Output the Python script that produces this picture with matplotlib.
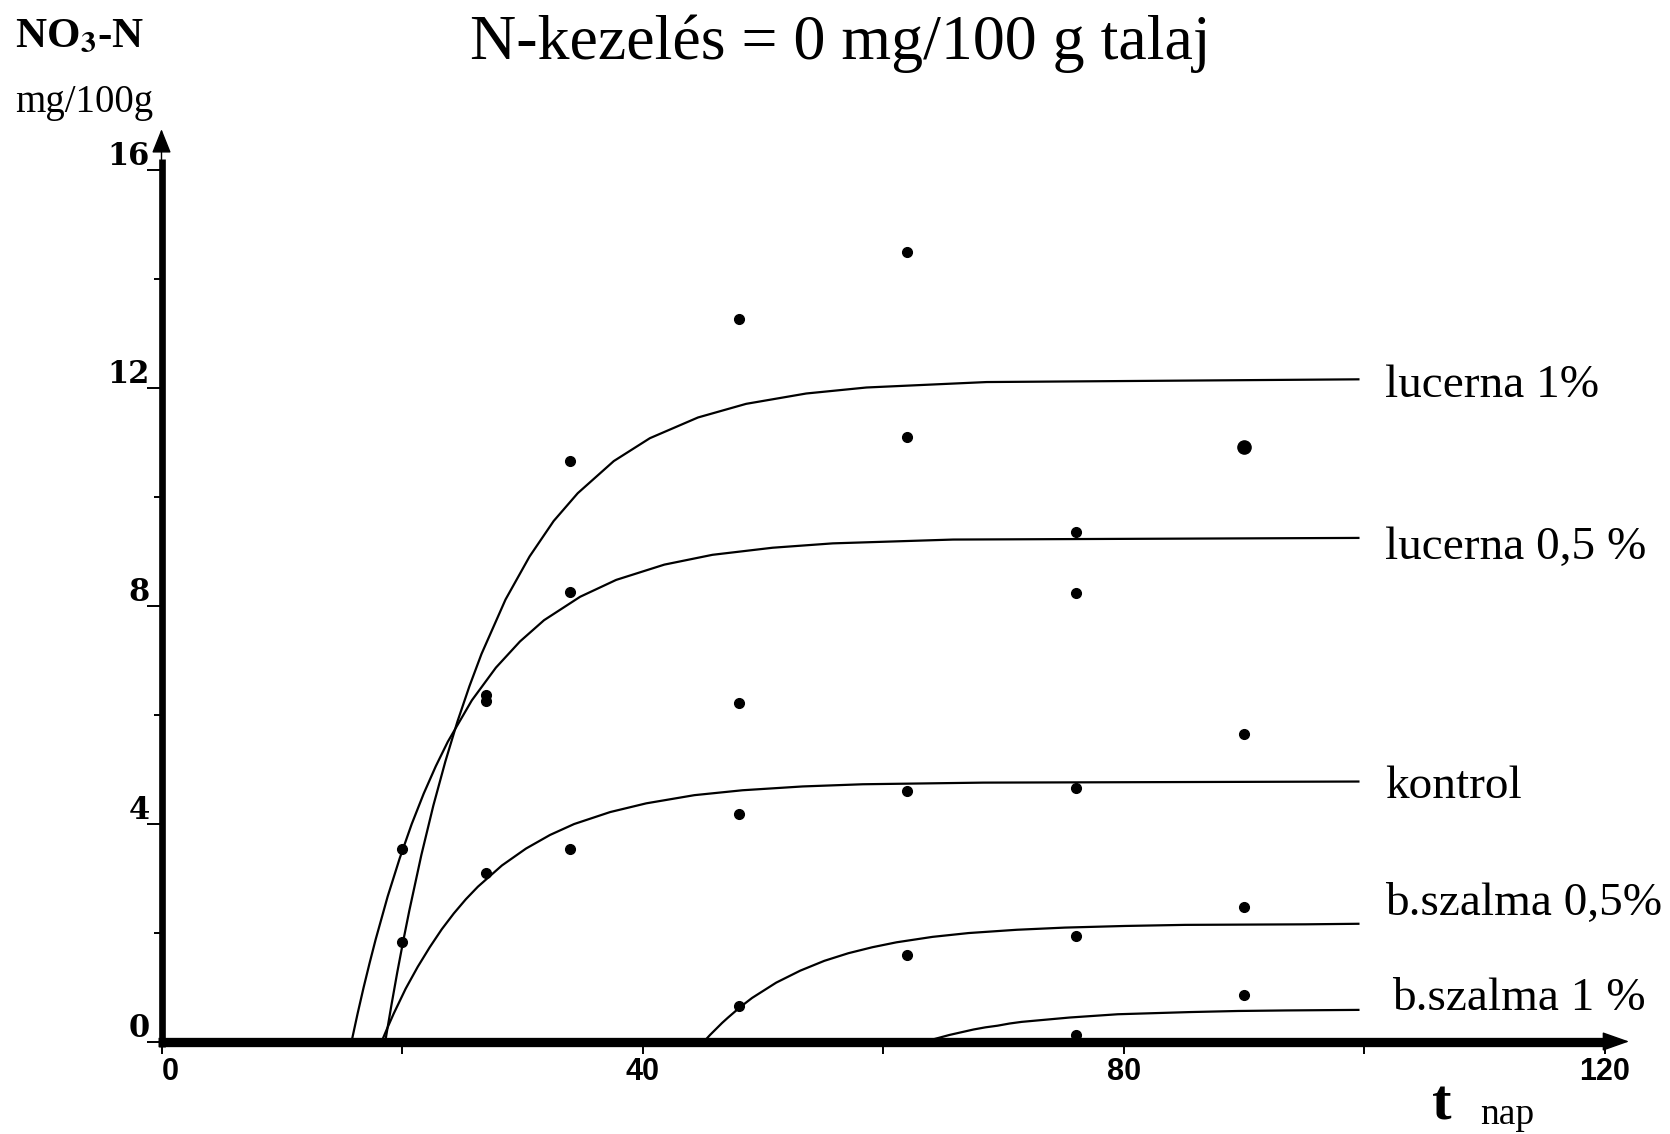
import matplotlib
matplotlib.use('Agg')
import matplotlib.pyplot as plt
import numpy as np

plt.rcParams['mathtext.fontset'] = 'stix'

nan = np.nan

# measured NO3-N (mg/100 g soil) on sampling days
days = [20, 27, 34, 48, 62, 76, 90]
obs_luc1 = [3.53, 6.36, 10.66, 13.25, 14.48, 9.35, 10.91]
obs_luc05 = [1.82, 6.24, 8.24, 6.22, 11.10, 8.23, 5.64]
obs_kontrol = [nan, 3.10, 3.53, 4.17, 4.60, 4.65, nan]
obs_sz05 = [nan, nan, nan, 0.65, 1.59, 1.94, 2.46]
obs_sz1 = [nan, nan, nan, nan, nan, 0.12, 0.86]

# fitted curves
luc1_t = [18.6, 19.1, 19.6, 20.1, 20.6, 21.6, 22.6, 23.6, 24.6, 25.6, 26.6, 28.6,
          30.6, 32.6, 34.6, 37.6, 40.6, 44.6, 48.6, 53.6, 58.6, 68.6, 99.5]
luc1_v = [0.0, 0.65, 1.27, 1.85, 2.40, 3.42, 4.33, 5.14, 5.87, 6.52, 7.11, 8.11,
          8.90, 9.55, 10.06, 10.65, 11.07, 11.45, 11.70, 11.89, 12.00, 12.10, 12.15]

luc05_t = [15.8, 16.3, 16.8, 17.3, 17.8, 18.8, 19.8, 20.8, 21.8, 22.8, 23.8, 25.8,
           27.8, 29.8, 31.8, 34.8, 37.8, 41.8, 45.8, 50.8, 55.8, 65.8, 99.5]
luc05_v = [0.0, 0.51, 0.99, 1.44, 1.87, 2.66, 3.36, 3.99, 4.55, 5.05, 5.50, 6.26,
           6.86, 7.34, 7.73, 8.16, 8.47, 8.75, 8.93, 9.06, 9.14, 9.21, 9.24]

kontrol_t = [18.3, 18.8, 19.3, 19.8, 20.3, 21.3, 22.3, 23.3, 24.3, 25.3, 26.3, 28.3,
             30.3, 32.3, 34.3, 37.3, 40.3, 44.3, 48.3, 53.3, 58.3, 68.3, 99.5]
kontrol_v = [0.0, 0.26, 0.51, 0.74, 0.97, 1.37, 1.73, 2.06, 2.35, 2.61, 2.84, 3.23,
             3.54, 3.79, 3.99, 4.21, 4.37, 4.52, 4.61, 4.68, 4.72, 4.75, 4.77]

sz05_t = [45.1, 45.6, 46.1, 46.6, 47.1, 48.1, 49.1, 50.1, 51.1, 52.1, 53.1, 55.1,
          57.1, 59.1, 61.1, 64.1, 67.1, 71.1, 75.1, 80.1, 85.1, 95.1, 99.5]
sz05_v = [0.0, 0.12, 0.23, 0.34, 0.44, 0.63, 0.80, 0.94, 1.08, 1.19, 1.30, 1.48,
          1.62, 1.73, 1.82, 1.92, 1.99, 2.05, 2.09, 2.12, 2.14, 2.15, 2.16]

sz1_t = [63.5, 64.5, 65.5, 66.5, 67.5, 68.5, 69.5, 70.5, 71.5, 73.5, 75.5, 77.5,
         79.5, 82.5, 85.5, 89.5, 93.5, 99.5]
sz1_v = [0.0, 0.06, 0.12, 0.17, 0.22, 0.26, 0.29, 0.33, 0.36, 0.40, 0.44, 0.47,
         0.50, 0.52, 0.54, 0.56, 0.57, 0.58]

labels = ['lucerna 1%', 'lucerna 0,5 %', 'kontrol', 'b.szalma 0,5%', 'b.szalma 1 %']

fig = plt.figure(figsize=(16.7, 11.34), dpi=100)
ax = fig.add_axes([161.5 / 1670, 92.5 / 1134, 1443.5 / 1670, 872 / 1134])
ax.set_xlim(0, 120)
ax.set_ylim(0, 16)
for s in ax.spines.values():
    s.set_visible(False)

curves = [(luc1_t, luc1_v), (luc05_t, luc05_v), (kontrol_t, kontrol_v),
          (sz05_t, sz05_v), (sz1_t, sz1_v)]
for t, v in curves:
    ax.plot(t, v, color='black', lw=1.6, zorder=2, clip_on=False)

for obs in [obs_luc1, obs_luc05, obs_kontrol, obs_sz05, obs_sz1]:
    ax.plot(days, obs, 'o', color='black', ms=7, ls='none', zorder=3, clip_on=False)
# doubled point on day 90
ax.plot(days[-1], obs_luc1[-1], 'o', color='black', ms=9.5, zorder=3)

# axes with arrows
ax.plot([-0.3, 120.5], [0, 0], color='black', lw=6.7, solid_capstyle='butt',
        zorder=5, clip_on=False)
ax.plot([0, 0], [-0.1, 16.2], color='black', lw=4.8, solid_capstyle='butt',
        zorder=5, clip_on=False)
ax.annotate('', xy=(122.0, 0), xytext=(119.5, 0), annotation_clip=False, zorder=5,
            arrowprops=dict(arrowstyle='-|>,head_length=1.7,head_width=0.6',
                            lw=1, color='black', shrinkA=0, shrinkB=0))
ax.annotate('', xy=(0, 16.74), xytext=(0, 16.1), annotation_clip=False, zorder=5,
            arrowprops=dict(arrowstyle='-|>,head_length=1.5,head_width=0.6',
                            lw=1, color='black', shrinkA=0, shrinkB=0))

ax.set_xticks(range(0, 121, 20))
ax.set_yticks([0, 4, 8, 12, 16])
ax.set_yticks([2, 6, 10, 14], minor=True)
ax.tick_params(axis='x', direction='out', length=8.5, width=1.4,
               labelbottom=False)
ax.tick_params(axis='y', which='major', direction='out', length=10.7, width=1.4,
               labelleft=False)
ax.tick_params(axis='y', which='minor', direction='out', length=5.9, width=1.4)

for v in [0, 4, 8, 12, 16]:
    ax.text(-0.96, v + 0.08, str(v), ha='right', va='baseline', fontsize=22,
            fontweight='bold', family='DejaVu Serif', clip_on=False)

for t, ha in zip([0, 40, 80, 120], ['left', 'center', 'center', 'center']):
    ax.text(t, -0.28, str(t), ha=ha, va='top', fontsize=22, fontweight='bold',
            family='Liberation Sans', clip_on=False)

label_x = [101.7, 101.7, 101.7, 101.7, 102.3]
label_y = [11.83, 8.86, 4.46, 2.33, 0.58]
for name, lx, ly in zip(labels, label_x, label_y):
    ax.text(lx, ly, name, ha='left', va='baseline', fontsize=34,
            family='Liberation Serif', clip_on=False)

fig.text(0.503, 1 - 59 / 1134, 'N-kezelés = 0 mg/100 g talaj', ha='center',
         va='baseline', fontsize=46, family='Liberation Serif')
fig.text(15 / 1670, 1 - 47 / 1134, r'NO$_\mathbf{3}$-N', ha='left', va='baseline',
         fontsize=31, fontweight='bold', family='Liberation Serif')
fig.text(15 / 1670, 1 - 112 / 1134, 'mg/100g', ha='left', va='baseline',
         fontsize=28, family='Liberation Serif')
fig.text(1432 / 1670, 2 / 1134, 't', ha='left', va='bottom',
         fontsize=42, fontweight='bold', family='Liberation Serif')
fig.text(1480 / 1670, 2 / 1134, 'nap', ha='left', va='bottom',
         fontsize=27, family='Liberation Serif')

fig.savefig('out.png', dpi=100)
